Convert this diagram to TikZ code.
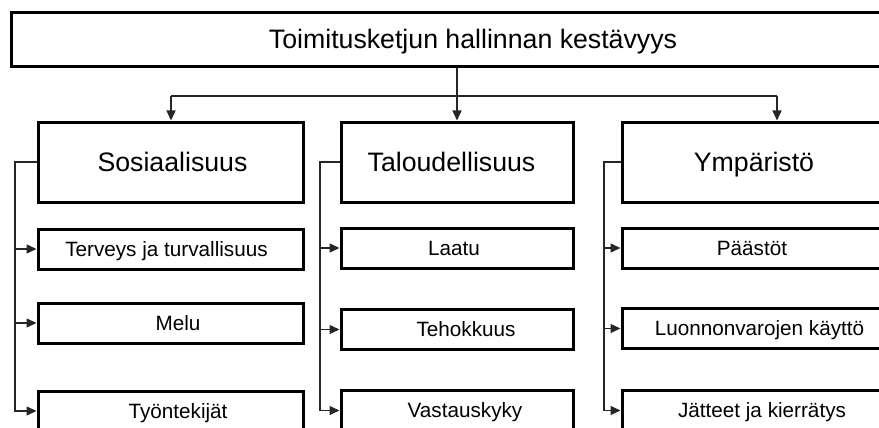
\documentclass[tikz,border=0pt]{standalone}
\usepackage{fontspec}
\setmainfont{Liberation Sans}
\usetikzlibrary{arrows.meta,calc}
\begin{document}
\begin{tikzpicture}[x=1pt,y=-1pt,
  box/.style={draw=black,line width=3pt,rectangle,inner sep=0pt},
  topbox/.style={box,minimum height=54pt},
  mainbox/.style={box,minimum height=80pt},
  subbox/.style={box,minimum height=40pt},
  bigtxt/.style={font=\fontsize{26.7}{30}\selectfont,inner sep=0pt,anchor=base},
  smalltxt/.style={font=\fontsize{20.7}{24}\selectfont,inner sep=0pt,anchor=base},
  conn/.style={line width=1.4pt,draw=black!85},
  arr/.style={conn,-{Triangle[length=10pt,width=9pt]}}]
\useasboundingbox (0,0) rectangle (879,428);
\clip (0,0) rectangle (879,428);

% top level
\node[topbox,minimum width=924pt] (top) at (473,40) {};
\node[bigtxt] (ttop) at (473,49) {Toimitusketjun hallinnan kestävyys};

% three pillars
\node[mainbox,minimum width=265pt] (sos) at (170.5,162) {};
\node[mainbox,minimum width=232pt] (tal) at (457,162) {};
\node[mainbox,minimum width=265pt] (ymp) at (754.5,162) {};
\node[bigtxt] (tsos) at (172.5,171) {Sosiaalisuus};
\node[bigtxt] (ttal) at (451.5,171) {Taloudellisuus};
\node[bigtxt] (tymp) at (754,171) {Ympäristö};

% sub-items, social
\node[subbox,minimum width=265pt] (s1) at (170.5,249) {};
\node[subbox,minimum width=265pt] (s2) at (170.5,323) {};
\node[subbox,minimum width=265pt] (s3) at (170.5,411) {};
\node[smalltxt] (ts1) at (166.5,256) {Terveys ja turvallisuus};
\node[smalltxt] (ts2) at (178,330) {Melu};
\node[smalltxt] (ts3) at (178,418) {Työntekijät};

% sub-items, economic
\node[subbox,minimum width=232pt] (e1) at (457,248) {};
\node[subbox,minimum width=232pt] (e2) at (457,329.5) {};
\node[subbox,minimum width=232pt] (e3) at (457,410.5) {};
\node[smalltxt] (te1) at (454,255) {Laatu};
\node[smalltxt] (te2) at (466,336.5) {Tehokkuus};
\node[smalltxt] (te3) at (465,417.5) {Vastauskyky};

% sub-items, environmental
\node[subbox,minimum width=265pt] (y1) at (754.5,248) {};
\node[subbox,minimum width=265pt] (y2) at (754.5,328.5) {};
\node[subbox,minimum width=265pt] (y3) at (754.5,410.5) {};
\node[smalltxt] (ty1) at (752,255) {Päästöt};
\node[smalltxt] (ty2) at (759.5,335.5) {Luonnonvarojen käyttö};
\node[smalltxt] (ty3) at (762,417.5) {Jätteet ja kierrätys};

% distribution from the top box
\coordinate (hL) at (171,96);
\coordinate (hR) at (777,96);
\draw[conn] (hL) -- (hR);
\draw[arr] (top.south -| tal.north) -- (tal.north);
\draw[arr] (hL) -- (hL |- sos.north);
\draw[arr] (hR) -- (hR |- ymp.north);

% branches to the sub-items
\coordinate (bs) at (15,162);
\coordinate (be) at (320,162);
\coordinate (by) at (604,162);
\draw[arr] (sos.west) -- (bs) |- (s3.west);
\draw[arr] (bs |- s1.west) -- (s1.west);
\draw[arr] (bs |- s2.west) -- (s2.west);
\draw[arr] (tal.west) -- (be) |- (e3.west);
\draw[arr] (be |- e1.west) -- (e1.west);
\draw[arr] (be |- e2.west) -- (e2.west);
\draw[arr] (ymp.west) -- (by) |- (y3.west);
\draw[arr] (by |- y1.west) -- (y1.west);
\draw[arr] (by |- y2.west) -- (y2.west);
\end{tikzpicture}
\end{document}
